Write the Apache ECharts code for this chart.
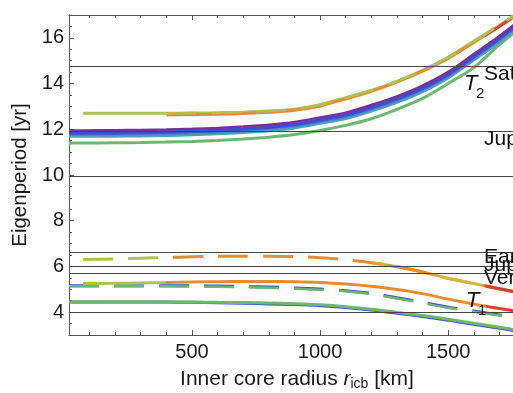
<!DOCTYPE html>
<html><head><meta charset="utf-8">
<script src="https://cdn.jsdelivr.net/npm/echarts@6/dist/echarts.min.js"></script>
<style>html,body{margin:0;padding:0;background:#fff}#c{width:513px;height:393px}</style>
</head><body><div id="c"></div>
<script>
// ---- data ----
const R = [20, 75, 200, 300, 400, 500, 600, 700, 800, 900, 1000, 1100, 1200, 1300, 1400, 1500, 1600, 1700, 1800];
// T2 group
const t2Purple = [11.95, 11.95, 11.96, 11.97, 11.99, 12.02, 12.06, 12.12, 12.20, 12.32, 12.52, 12.73, 13.06, 13.44, 13.91, 14.51, 15.29, 16.08, 16.95];
const t2Blue   = [11.84, 11.84, 11.85, 11.86, 11.88, 11.91, 11.95, 12.01, 12.09, 12.21, 12.41, 12.62, 12.95, 13.33, 13.80, 14.40, 15.18, 15.97, 16.84];
const t2Light  = [11.77, 11.77, 11.78, 11.79, 11.81, 11.84, 11.88, 11.94, 12.02, 12.14, 12.34, 12.55, 12.88, 13.26, 13.73, 14.33, 15.11, 15.90, 16.77];
const t2Teal   = [11.69, 11.69, 11.70, 11.71, 11.73, 11.76, 11.80, 11.86, 11.94, 12.06, 12.26, 12.47, 12.80, 13.18, 13.65, 14.25, 15.03, 15.82, 16.70];
const t2Green  = [11.40, 11.40, 11.41, 11.42, 11.44, 11.47, 11.51, 11.57, 11.65, 11.77, 11.95, 12.17, 12.46, 12.87, 13.35, 14.00, 14.70, 15.70, 16.60];
const t2Yg     = [null, 12.70, 12.70, 12.70, 12.70, 12.71, 12.72, 12.75, 12.80, 12.88, 13.08, 13.38, 13.70, 14.10, 14.58, 15.15, 15.85, 16.55, 17.30];
const t2Orange = [null, null, null, null, 12.62, 12.64, 12.66, 12.69, 12.74, 12.83, 13.02, 13.33, 13.66, 14.06, 14.54, 15.10, 15.80, 16.50, 17.25];
// T1 group
const t1UpperDashed = [null, 6.30, 6.33, 6.36, 6.39, 6.42, 6.44, 6.45, 6.45, 6.43, 6.38, 6.29, 6.16, 5.99, 5.76, 5.48, 5.25, 5.02, 4.80];
const t1Solid       = [null, 5.25, 5.26, 5.28, 5.30, 5.32, 5.33, 5.34, 5.34, 5.33, 5.30, 5.23, 5.13, 4.99, 4.81, 4.57, 4.35, 4.16, 3.98];
const t1LowerDashed = [5.16, 5.16, 5.16, 5.16, 5.16, 5.15, 5.14, 5.12, 5.10, 5.06, 5.01, 4.94, 4.82, 4.63, 4.43, 4.22, 4.05, 3.88, 3.70];
const t1LowerDashedG= [5.13, 5.13, 5.13, 5.13, 5.13, 5.12, 5.11, 5.09, 5.07, 5.03, 4.98, 4.91, 4.79, 4.60, 4.40, 4.19, 4.02, 3.85, 3.67];
const t1LowGreen    = [4.44, 4.44, 4.44, 4.44, 4.44, 4.44, 4.43, 4.42, 4.40, 4.37, 4.32, 4.24, 4.13, 3.99, 3.85, 3.69, 3.51, 3.34, 3.15];
const t1LowBlue     = [4.44, 4.44, 4.44, 4.44, 4.44, 4.43, 4.41, 4.39, 4.36, 4.33, 4.28, 4.20, 4.09, 3.95, 3.81, 3.65, 3.47, 3.30, 3.11];
// reference periods
const planetPeriods = [14.74, 11.9, 9.93, 6.64, 5.99, 5.71, 3.98];
const planetNames   = ['Saturn', 'Jupiter', '', 'Earth', 'Jupiter', 'Venus', ''];
// ticks
const xMajor = [500, 1000, 1500];
const xMinor = [100, 200, 300, 400, 600, 700, 800, 900, 1100, 1200, 1300, 1400, 1600, 1700];
const yMajor = [4, 6, 8, 10, 12, 14, 16];
const yMinor = [3, 3.5, 4.5, 5, 5.5, 6.5, 7, 7.5, 8.5, 9, 9.5, 10.5, 11, 11.5, 12.5, 13, 13.5, 14.5, 15, 15.5, 16.5, 17];

// ---- styling ----
const C = {purple:'#77309a', blue:'#3c4fd2', light:'#4a86d4', teal:'#4ea4a8', green:'#6cb86e',
           yg:'#aac44c', orange:'#ec8a2e', yel:'#d6b23e', red:'#e43a28', line:'#444'};
const FONT = '"Liberation Sans", Arial, sans-serif';
const rEnd = R[R.length - 1];
function grad(data, stops) {
  const i0 = data.findIndex(v => v !== null);
  const a = R[i0], b = rEnd;
  return {type:'linear', x:0, y:0, x2:1, y2:0,
    colorStops: stops.map(([r, c]) => ({offset: Math.max(0, Math.min(1, (r - a) / (b - a))), color: c}))};
}
function pairs(vals) { return R.map((r, i) => [r, vals[i]]); }
function from(vals, r0) { return vals.map((v, i) => R[i] >= r0 ? v : null); }
function line(name, vals, color, width, dash, z) {
  return {type:'line', name, data: pairs(vals), showSymbol:false, symbol:'none', smooth:0.3,
    connectNulls:false, silent:true, z: z || 2,
    lineStyle:{color, width: width || 3, type: dash ? [30, 15] : 'solid', cap:'butt'}};
}

const series = [
  {type:'line', name:'planets', data:[], silent:true, z:1,
   markLine:{silent:true, symbol:['none','none'], animation:false,
     label:{show:false}, lineStyle:{color:C.line, width:1, type:'solid'},
     data: planetPeriods.map(v => ({yAxis: v}))}},
  line('t2green', t2Green, C.green, 3),
  line('t2teal', t2Teal, C.teal, 3),
  line('t2light', t2Light, C.light, 3),
  line('t2blue', t2Blue, C.blue, 3.5),
  line('t2purple', t2Purple, C.purple, 2.5),
  line('t2yg', t2Yg, C.yg, 3),
  line('t2orange', t2Orange, grad(t2Orange, [[400, C.orange],[1630, C.orange],[1645, C.red],[1720, C.red],[1760, C.orange]]), 3),
  line('t2ygdash', from(t2Yg, 400), C.yg, 2.5, true, 3),
  line('t1lowblue', t1LowBlue, C.blue, 3),
  line('t1lowgreen', t1LowGreen, C.green, 3),
  line('t1dashblue', t1LowerDashed, C.blue, 3, true),
  line('t1dashgreen', t1LowerDashedG, C.green, 2.5, true, 3),
  line('t1solid', t1Solid, grad(t1Solid, [[75, C.yg],[395, C.yg],[410, C.orange],[1630, C.orange],[1645, C.red]]), 3),
  line('t1upper', t1UpperDashed, grad(t1UpperDashed, [[75, C.yg],[395, C.yg],[410, C.orange],[1400, C.orange],[1480, C.yel],[1630, C.yel],[1645, C.red]]), 3, true),
  line('t1uppertail', from(t1UpperDashed, 1200), grad(from(t1UpperDashed, 1200), [[1200, C.orange],[1250, C.yel],[1290, C.orange],[1400, C.orange],[1480, C.yel],[1630, C.yel],[1645, C.red]]), 3)
];

const plain = v => String(v);
function xAx(pos, ticks, len, labels, extra) {
  return Object.assign({type:'value', min:20, max:1800, position:pos, splitLine:{show:false},
    axisLine:{show:true, onZero:false, lineStyle:{color:'#555', width:1}},
    axisTick:{show:true, inside:true, length:len, customValues:ticks, lineStyle:{color:'#555', width:1}},
    axisLabel: labels ? {show:true, customValues:labels, formatter:plain, fontSize:20, fontFamily:FONT, color:'#1a1a1a', margin:7} : {show:false}
  }, extra || {});
}
function yAx(ticks, len, labels, extra) {
  return Object.assign({type:'value', min:3, max:17, position:'left', splitLine:{show:false},
    axisLine:{show:true, onZero:false, lineStyle:{color:'#555', width:1}},
    axisTick:{show:true, inside:true, length:len, customValues:ticks, lineStyle:{color:'#555', width:1}},
    axisLabel: labels ? {show:true, customValues:labels, formatter:plain, fontSize:20, fontFamily:FONT, color:'#1a1a1a', margin:5} : {show:false}
  }, extra || {});
}

const chart = echarts.init(document.getElementById('c'), null, {renderer:'canvas'});
chart.setOption({
  animation:false,
  backgroundColor:'#fff',
  grid:{left:69, top:15, width:456, height:320, containLabel:false, outerBoundsMode:'none'},
  xAxis:[
    xAx('bottom', xMajor, 5, xMajor, {
      name:'{a|Inner core radius }{r|r}{s|icb}{a| [km]}', nameLocation:'middle', nameGap:33,
      nameTextStyle:{fontFamily:FONT, color:'#1a1a1a', rich:{
        a:{fontSize:21, fontFamily:FONT, color:'#1a1a1a', lineHeight:23, verticalAlign:'middle'},
        r:{fontSize:21, fontFamily:FONT, fontStyle:'italic', color:'#1a1a1a', lineHeight:23, verticalAlign:'middle'},
        s:{fontSize:14, fontFamily:FONT, color:'#1a1a1a', lineHeight:14, verticalAlign:'bottom'}}}}),
    xAx('bottom', xMinor, 3, null),
    xAx('top', xMajor, 5, null),
    xAx('top', xMinor, 3, null)
  ],
  yAxis:[
    yAx(yMajor, 5, yMajor, {name:'Eigenperiod [yr]', nameLocation:'middle', nameGap:34,
      nameTextStyle:{fontSize:20.5, fontFamily:FONT, color:'#1a1a1a'}}),
    yAx(yMinor, 3, null)
  ],
  series
});

// annotations: planet names at the right, T1 / T2 labels
const labelDy = [8, 8, 0, 5.5, -1.5, 5.5, 0];
const gfx = [];
planetPeriods.forEach((v, i) => {
  if (!planetNames[i]) return;
  const y = chart.convertToPixel({yAxisIndex:0}, v) + labelDy[i];
  gfx.push({type:'text', x:484, y, z:100, silent:true,
    style:{text:planetNames[i], fontSize:21, fontFamily:FONT, fill:'#111', verticalAlign:'middle', align:'left'}});
});
function tLabel(x, y, sub) {
  gfx.push({type:'text', x, y, z:100, silent:true,
    style:{text:'T', fontSize:22, fontStyle:'italic', fontFamily:FONT, fill:'#111', verticalAlign:'middle', align:'left'}});
  gfx.push({type:'text', x:x + 12, y:y + 10, z:100, silent:true,
    style:{text:sub, fontSize:15, fontFamily:FONT, fill:'#111', verticalAlign:'middle', align:'left'}});
}
tLabel(464, 84, '2');
tLabel(466, 301, '1');
chart.setOption({graphic: gfx});
</script>
</body></html>
